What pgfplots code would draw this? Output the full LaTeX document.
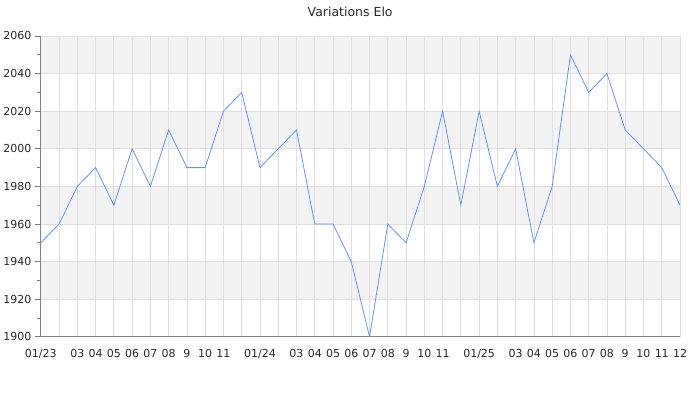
\documentclass[border=0pt]{standalone}
\usepackage{fontspec}
\setmainfont{DejaVu Sans}
\usepackage{pgfplots}
\pgfplotsset{compat=1.18}
\definecolor{linec}{RGB}{100,149,237}
\definecolor{stripec}{RGB}{243,243,243}
\definecolor{gridc}{RGB}{224,224,224}
\definecolor{axc}{RGB}{128,128,128}
\definecolor{txt}{RGB}{40,40,40}
\begin{document}
\begin{tikzpicture}
\path (0bp,0bp) rectangle (700bp,400bp);
\node[font=\fontsize{12.5bp}{15bp}\selectfont, text=txt] at (350bp,388bp) {Variations Elo};
\begin{axis}[set layers, at={(40.5bp,63bp)}, anchor=south west, scale only axis,
  width=639.5bp, height=301bp,
  xmin=0, xmax=35, ymin=1900, ymax=2060,
  xtick={0,...,35},
  xticklabels={01/23,,03,04,05,06,07,08,9,10,11,,01/24,,03,04,05,06,07,08,9,10,11,,01/25,,03,04,05,06,07,08,9,10,11,12},
  ytick={1900,1920,...,2060}, minor ytick={1910,1930,...,2050},
  grid=major, major grid style={gridc, line width=0.8bp},
  axis x line*=bottom, axis y line*=left, axis line style={-, draw=axc, line width=0.8bp},
  tick align=outside, xtick style={draw=none}, ytick style={draw=axc, line width=0.8bp},
  minor tick style={draw=axc, line width=0.8bp},
  major tick length=6bp, minor tick length=4bp,
  tick label style={font=\fontsize{11bp}{13bp}\selectfont, text=txt},
  xticklabel style={yshift=-2.5bp, text height=1.6ex, text depth=0.3ex},
  /pgf/number format/assume math mode=true,
  yticklabel style={/pgf/number format/1000 sep={}},
]
\addplot[fill=stripec, draw=none, forget plot, on layer=axis background] coordinates {(0,2040) (35,2040) (35,2060) (0,2060)} -- cycle;
\addplot[fill=stripec, draw=none, forget plot, on layer=axis background] coordinates {(0,2000) (35,2000) (35,2020) (0,2020)} -- cycle;
\addplot[fill=stripec, draw=none, forget plot, on layer=axis background] coordinates {(0,1960) (35,1960) (35,1980) (0,1980)} -- cycle;
\addplot[fill=stripec, draw=none, forget plot, on layer=axis background] coordinates {(0,1920) (35,1920) (35,1940) (0,1940)} -- cycle;
\addplot[linec, line width=0.8bp] coordinates {
(0,1950) (1,1960) (2,1980) (3,1990) (4,1970) (5,2000) (6,1980) (7,2010) (8,1990) (9,1990)
(10,2020) (11,2030) (12,1990) (13,2000) (14,2010) (15,1960) (16,1960) (17,1940) (18,1900) (19,1960)
(20,1950) (21,1980) (22,2020) (23,1970) (24,2020) (25,1980) (26,2000) (27,1950) (28,1980) (29,2050)
(30,2030) (31,2040) (32,2010) (33,2000) (34,1990) (35,1970)
};
\end{axis}
\end{tikzpicture}
\end{document}
